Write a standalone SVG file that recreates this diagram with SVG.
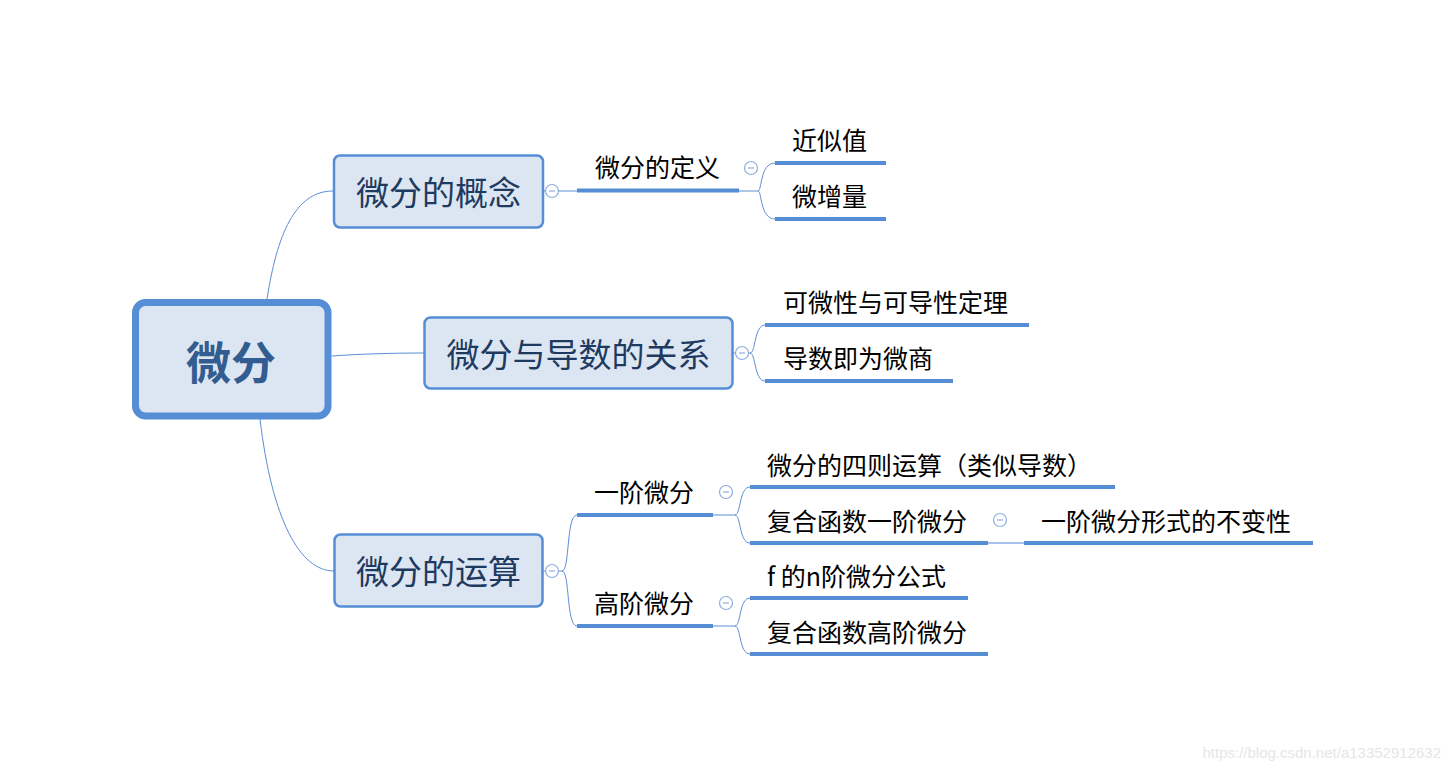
<svg xmlns="http://www.w3.org/2000/svg" width="1452" height="772" viewBox="0 0 1452 772">
<style>
text{font-family:"Noto Sans CJK SC","Liberation Sans",sans-serif;dominant-baseline:central}
.main{fill:#dce6f2;stroke:#558ed5;stroke-width:2.5}
.mt{font-size:33px;fill:#1f3a60;text-anchor:middle}
.ct{font-size:25px;fill:#000}
.ul{stroke:#558ed5;stroke-width:4;fill:none}
.ln{stroke:#5b8dd3;stroke-width:1;fill:none}
.cc{fill:#fff;stroke:#8eaee0;stroke-width:1.2}
.cm{stroke:#8eaee0;stroke-width:1.2}
</style>
<rect width="1452" height="772" fill="#fff"/>
<g id="connectors">
<path class="ln" d="M267,299 C277,235 295,191 333,191"/>
<path class="ln" d="M332,356 C360,354 390,353 424,353"/>
<path class="ln" d="M260,419 C272,520 300,571 334,571"/>
<path class="ln" d="M544,191 H577"/>
<path class="ln" d="M739,191 H758 C762,191 760,163 775,163 M758,191 C762,191 760,219 775,219"/>
<path class="ln" d="M733,353 H750 C756,353 754,325 765,325 M750,353 C756,353 754,381 765,381"/>
<path class="ln" d="M543,571 H562 C570,571 566,515 577,515 M562,571 C570,571 566,626 577,626"/>
<path class="ln" d="M713,515 H735 C741,515 739,487 750,487 M735,515 C741,515 739,543 750,543"/>
<path class="ln" d="M713,626 H735 C741,626 739,598 750,598 M735,626 C741,626 739,654 750,654"/>
<path d="M988,543 H1024" stroke="#a9c3ea" stroke-width="2" fill="none"/>
</g>
<g id="root">
<rect x="135.5" y="302.5" width="192.5" height="113.5" rx="10" fill="#dce6f2" stroke="#558ed5" stroke-width="7"/>
<text x="231" y="360" font-size="45" font-weight="bold" fill="#335d91" text-anchor="middle">微分</text>
</g>
<g id="n1">
<rect class="main" x="334" y="155.5" width="209" height="72" rx="6"/>
<text class="mt" x="438.5" y="190.5">微分的概念</text>
<circle class="cc" cx="552" cy="191" r="6.5"/><path class="cm" d="M549,191 H555"/>
</g>
<g id="n2">
<rect class="main" x="424.5" y="317.5" width="308" height="71" rx="6"/>
<text class="mt" x="578.5" y="352.5">微分与导数的关系</text>
<circle class="cc" cx="742" cy="353" r="6.5"/><path class="cm" d="M739,353 H745"/>
</g>
<g id="n3">
<rect class="main" x="334.5" y="534.5" width="208" height="72" rx="6"/>
<text class="mt" x="438.5" y="569.5">微分的运算</text>
<circle class="cc" cx="552" cy="571" r="6.5"/><path class="cm" d="M549,571 H555"/>
</g>
<g id="n1a">
<path class="ul" d="M577,190.5 H739"/>
<text class="ct" x="595" y="165.5">微分的定义</text>
<circle class="cc" cx="751" cy="168" r="6.5"/><path class="cm" d="M748,168 H754"/>
</g>
<g id="n1a1">
<path class="ul" d="M775,163 H886"/>
<text class="ct" x="792" y="138.5">近似值</text>
</g>
<g id="n1a2">
<path class="ul" d="M775,219 H886"/>
<text class="ct" x="792" y="194.5">微增量</text>
</g>
<g id="n2a">
<path class="ul" d="M765,325 H1029"/>
<text class="ct" x="783" y="300.5">可微性与可导性定理</text>
</g>
<g id="n2b">
<path class="ul" d="M765,381 H953"/>
<text class="ct" x="783" y="356.5">导数即为微商</text>
</g>
<g id="n3a">
<path class="ul" d="M577,515 H713"/>
<text class="ct" x="594" y="490.5">一阶微分</text>
<circle class="cc" cx="726" cy="492" r="6.5"/><path class="cm" d="M723,492 H729"/>
</g>
<g id="n3b">
<path class="ul" d="M577,626 H713"/>
<text class="ct" x="594" y="601.5">高阶微分</text>
<circle class="cc" cx="726" cy="603" r="6.5"/><path class="cm" d="M723,603 H729"/>
</g>
<g id="n3a1">
<path class="ul" d="M750,487 H1115"/>
<text class="ct" x="767" y="463.5">微分的四则运算（类似导数）</text>
</g>
<g id="n3a2">
<path class="ul" d="M750,543 H988"/>
<text class="ct" x="767" y="519.5">复合函数一阶微分</text>
<circle class="cc" cx="1000" cy="520" r="6.5"/><path class="cm" d="M997,520 H1003"/>
</g>
<g id="n3a2a">
<path class="ul" d="M1024,543 H1313"/>
<text class="ct" x="1041" y="519.5">一阶微分形式的不变性</text>
</g>
<g id="n3b1">
<path class="ul" d="M750,598 H968"/>
<text class="ct" x="767" y="574.5">f 的n阶微分公式</text>
</g>
<g id="n3b2">
<path class="ul" d="M750,654 H988"/>
<text class="ct" x="767" y="630.5">复合函数高阶微分</text>
</g>
<text x="1441" y="752" font-size="15" fill="#e6e6e6" text-anchor="end" style="font-family:'Liberation Sans',sans-serif">https://blog.csdn.net/a13352912632</text>
</svg>
